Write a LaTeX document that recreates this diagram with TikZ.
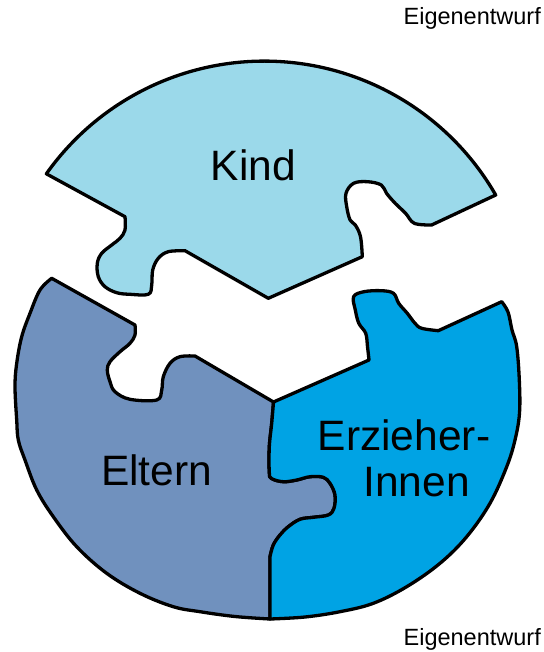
\documentclass[tikz,border=0pt]{standalone}
\usepackage{fontspec}
\setmainfont{Liberation Sans}
\definecolor{kindc}{RGB}{155,217,234}
\definecolor{elternc}{RGB}{112,145,190}
\definecolor{erzc}{RGB}{0,163,228}
\begin{document}
\begin{tikzpicture}[x=1pt,y=-1pt,
  piece/.style={draw=black, line width=3.3pt, line join=round},
  lbl/.style={font=\fontsize{42.5}{46}\selectfont, inner sep=0pt, anchor=base},
  note/.style={font=\fontsize{23.5}{26}\selectfont, inner sep=0pt, anchor=base east}]
\useasboundingbox (0,0) rectangle (543,652);
\coordinate (mid) at (273.5,402);
\coordinate (seamlow) at (270,556.7);
\coordinate (bot) at (270,619);
% Kind
\path[piece, fill=kindc] (46.7,174) -- (125,216.7)
 -- plot[smooth, tension=0.6] coordinates {(125,216.7) (125,230) (120,238.3) (111.7,245) (101.7,253.3) (97.3,263.3) (98.3,276.7) (105,286.7) (116.7,292.7) (130,294.3) (148.3,294.3) (151.7,285) (152.7,270) (158.3,258.3) (168.3,251.7) (185,250.7)}
 -- (268.3,298.3) -- (362.3,256.7)
 -- plot[smooth, tension=0.6] coordinates {(362.3,256.7) (360.5,236.7) (355.3,225) (350.1,220) (346.7,206.7) (346,193.3) (353.6,183.3) (367.5,181.7) (381.3,185) (386.5,193.3) (395.2,203.3) (405.6,213.3) (414.3,223.3) (431.6,225)}
 -- (495.7,195)
 arc[start angle=-29.9, end angle=-144.7, radius=267] -- cycle;
% Eltern
\path[piece, fill=elternc] (51.7,278.3) -- (135,325)
 -- plot[smooth, tension=0.6] coordinates {(135,325) (135,335) (130,343.3) (120,351.7) (110,361.7) (107.3,370) (110,381.7) (115,391.7) (130,399.3) (156.7,400) (161.7,390) (163.3,376.7) (170,363.3) (180,356.7) (195,356)}
 -- (mid)
 -- plot[smooth, tension=0.6] coordinates {(273.5,402) (271.7,423.3) (269.3,446.7) (269.3,472) (271.5,478.5) (283.3,481.7) (296.7,480) (310,476.7) (323.3,477.3) (330,483.3) (335,495) (334,508.3) (328.3,515) (313.3,517.3) (300,519.3) (288.3,526.7) (280,535) (273.3,545) (270,556.7)}
 -- (bot)
 -- plot[smooth, tension=0.6] coordinates {(270,619) (235,616.5) (200,611.7) (173.3,606.7) (140,593.3) (106.7,573.3) (76.7,546.7) (53.3,516.7) (36.7,490) (25,460) (18.3,440) (16.7,420) (15,386.7) (16.7,363.3) (21.7,336.7) (30,313.3) (40,290) (51.7,278.3)}
 -- cycle;
% ErzieherInnen
\path[piece, fill=erzc] (mid) -- (369,360)
 -- plot[smooth, tension=0.6] coordinates {(369,360) (367.5,346.7) (365.7,333.3) (358.8,323.3) (355.3,310) (353.6,296.7) (364,291.7) (381.3,290.7) (393.5,293.3) (398.7,303.3) (407.3,313.3) (415,323.3) (421.7,328.3) (438.3,330.7)}
 -- (501.7,301.7)
 -- plot[smooth, tension=0.6] coordinates {(501.7,301.7) (508,312) (512,330) (516.7,346.7) (519.3,380) (519.5,413) (515,440) (506.7,466.7) (490,503.3) (466.7,536.7) (440,563.3) (406.7,586.7) (373.3,603.3) (340,611.7) (305,617) (270,619)}
 -- (seamlow)
 -- plot[smooth, tension=0.6] coordinates {(270,556.7) (273.3,545) (280,535) (288.3,526.7) (300,519.3) (313.3,517.3) (328.3,515) (334,508.3) (335,495) (330,483.3) (323.3,477.3) (310,476.7) (296.7,480) (283.3,481.7) (271.5,478.5) (269.3,472) (269.3,446.7) (271.7,423.3) (273.5,402)}
 -- cycle;
% Labels
\node[lbl] (kind) at (253.3,181) {Kind};
\node[lbl] (eltern) at (156.7,485) {Eltern};
\node[lbl] (erz1) at (404,450) {Erzieher-};
\node[lbl] (erz2) at (416.7,496.7) {Innen};
\node[note] (src1) at (541,25) {Eigenentwurf};
\node[note] (src2) at (541,645.7) {Eigenentwurf};
\end{tikzpicture}
\end{document}
